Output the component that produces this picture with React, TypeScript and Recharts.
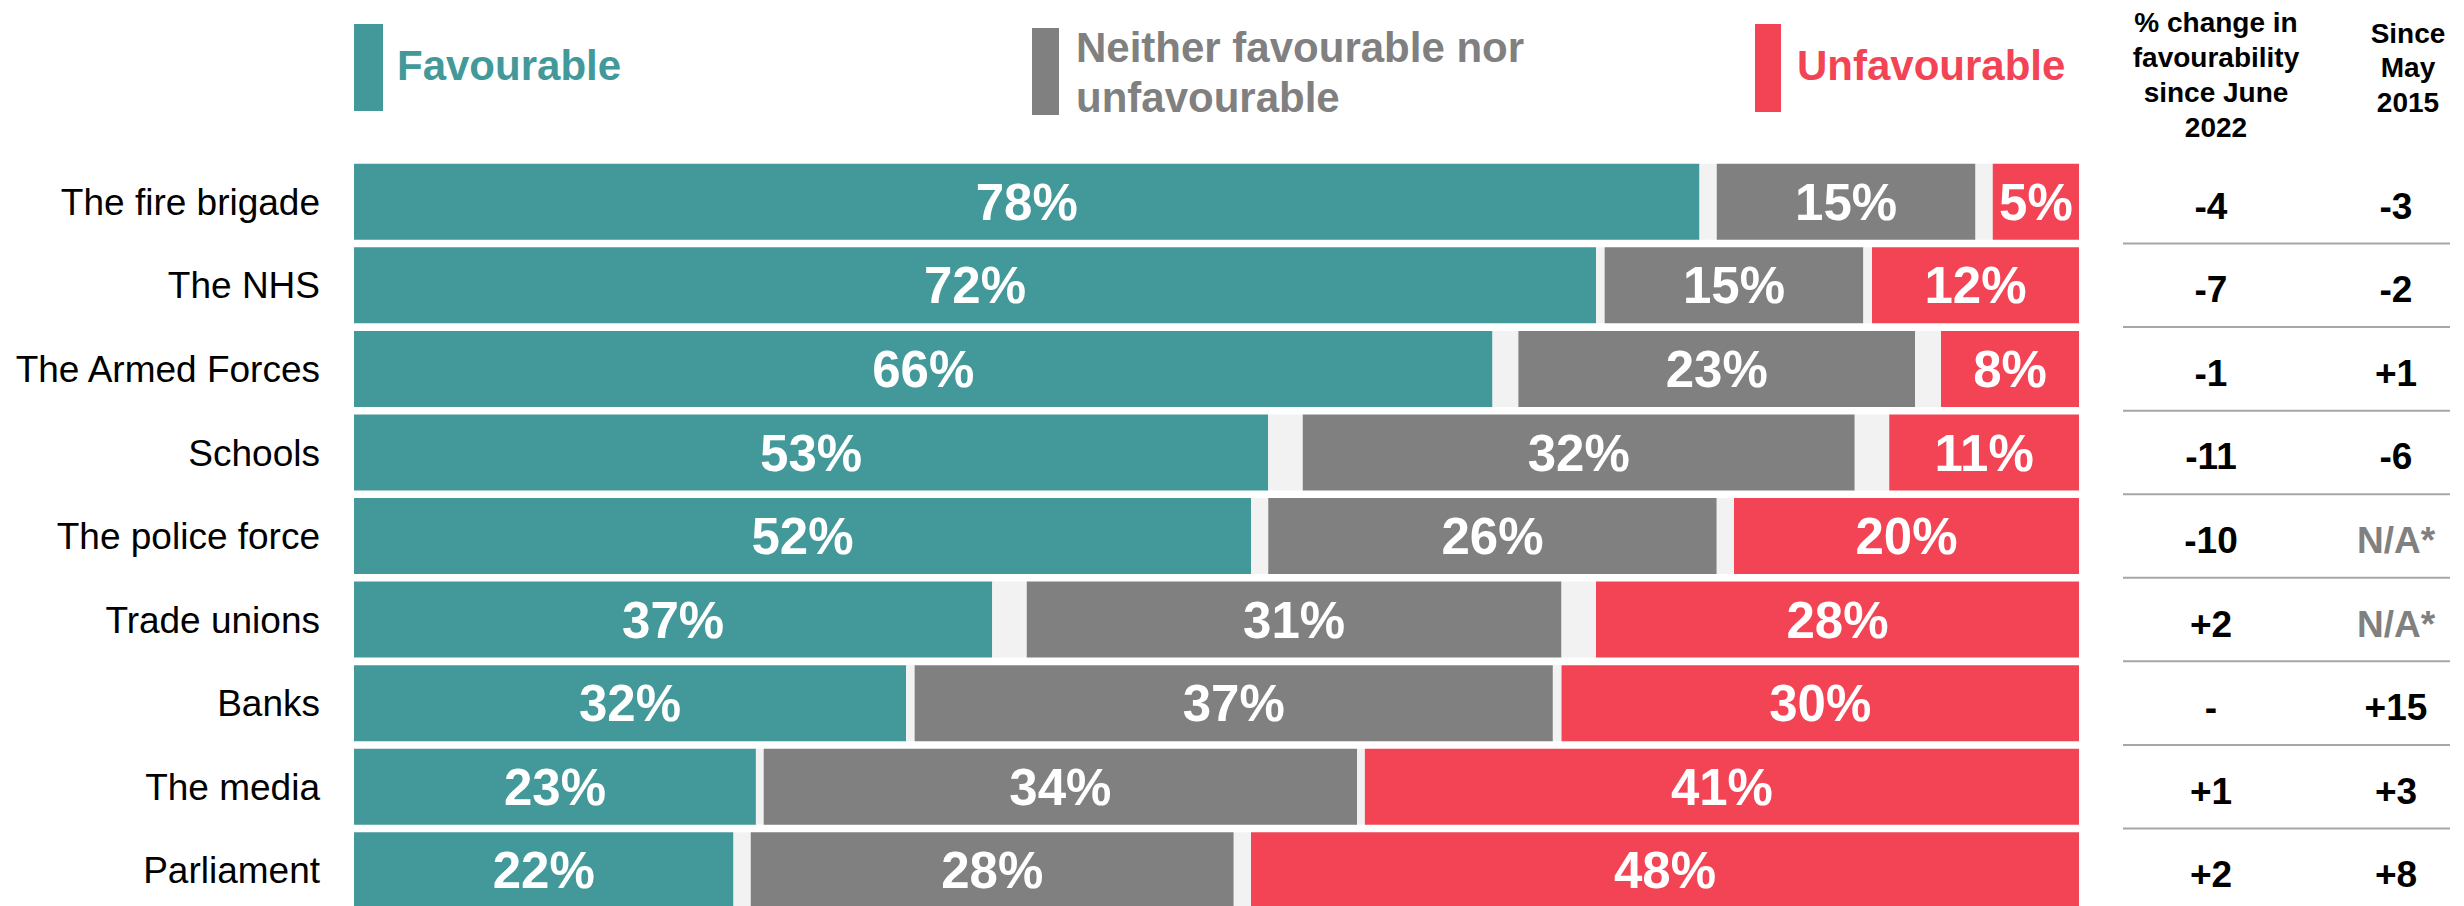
import React from 'react';
import { BarChart, Bar, XAxis, YAxis, LabelList } from 'recharts';

const institutions = [
  'The fire brigade',
  'The NHS',
  'The Armed Forces',
  'Schools',
  'The police force',
  'Trade unions',
  'Banks',
  'The media',
  'Parliament',
];
// bar lengths; labels show them rounded
const favourable = [78, 72, 66, 53, 52, 37, 32, 23.3, 22];
const neither = [15, 15, 23, 32, 26, 31, 37, 34.4, 28];
const unfavourable = [5, 12, 8, 11, 20, 28, 30, 41.4, 48];
const dontKnow = [2, 1, 3, 4, 2, 4, 1, 0.9, 2];
const changeSinceJune2022 = ['-4', '-7', '-1', '-11', '-10', '+2', '-', '+1', '+2'];
const changeSinceMay2015 = ['-3', '-2', '+1', '-6', 'N/A*', 'N/A*', '+15', '+3', '+8'];

const TEAL = '#43999A';
const GREY = '#808080';
const RED = '#F24455';
const GAP = '#F2F2F2';
const FONT = '"Liberation Sans", Arial, Helvetica, sans-serif';

const W = 2464;
const H = 920;
const TOP = 160;
const BOTTOM = 8;
const ROW = (H - TOP - BOTTOM) / institutions.length;

// don't know is split either side of the neutral block
const data = institutions.map((name, i) => ({
  name,
  fav: favourable[i],
  dkA: dontKnow[i] / 2,
  neither: neither[i],
  dkB: dontKnow[i] / 2,
  unfav: unfavourable[i],
}));

const pct = (v: any) => `${Math.round(Number(v))}%`;

const RightTick = (props: any) => {
  const { y, payload } = props;
  const i = props.index ?? institutions.indexOf(payload.value);
  const may = changeSinceMay2015[i];
  return (
    <g>
      <text x={2211} y={y + 17} textAnchor="middle" fontSize={37} fontWeight="bold" fill="#000">
        {changeSinceJune2022[i]}
      </text>
      <text x={2396} y={y + 17} textAnchor="middle" fontSize={37} fontWeight="bold" fill={may === 'N/A*' ? GREY : '#000'}>
        {may}
      </text>
      {i < institutions.length - 1 && (
        <line x1={2123} x2={2450} y1={y + ROW / 2} y2={y + ROW / 2} stroke="#A6A6A6" strokeWidth={2} />
      )}
    </g>
  );
};

const labelStyle = { fill: '#fff', fontSize: 51, fontWeight: 'bold' as const, fontFamily: FONT };

export default function App() {
  return (
    <div style={{ position: 'absolute', left: 0, top: 0, width: W, height: 906, overflow: 'hidden', fontFamily: FONT, background: '#fff' }}>
      <svg width={W} height={160} style={{ position: 'absolute', left: 0, top: 0 }}>
        <rect x={354} y={24} width={29} height={87} fill={TEAL} />
        <text x={397} y={80} fontSize={42} fontWeight="bold" fill={TEAL}>Favourable</text>
        <rect x={1032} y={28} width={27} height={87} fill={GREY} />
        <text x={1076} y={62} fontSize={42} fontWeight="bold" fill={GREY}>Neither favourable nor</text>
        <text x={1076} y={112} fontSize={42} fontWeight="bold" fill={GREY}>unfavourable</text>
        <rect x={1755} y={24} width={26} height={88} fill={RED} />
        <text x={1797} y={80} fontSize={42} fontWeight="bold" fill={RED}>Unfavourable</text>

        <g fontSize={28} fontWeight="bold" fill="#000" textAnchor="middle">
          <text x={2216} y={31.5}>% change in</text>
          <text x={2216} y={66.5}>favourability</text>
          <text x={2216} y={101.5}>since June</text>
          <text x={2216} y={136.5}>2022</text>
          <text x={2408} y={42.5}>Since</text>
          <text x={2408} y={77}>May</text>
          <text x={2408} y={111.5}>2015</text>
        </g>
      </svg>
      <div style={{ position: 'absolute', left: 0, top: 0 }}>
        <BarChart
          width={W}
          height={H}
          data={data}
          layout="vertical"
          margin={{ top: TOP, right: 0, bottom: BOTTOM, left: 0 }}
          barCategoryGap={3.8}
        >
          <XAxis type="number" domain={[0, 100]} hide />
          <YAxis
            type="category"
            dataKey="name"
            width={354}
            axisLine={false}
            tickLine={false}
            tickSize={0}
            tickMargin={34}
            interval={0}
            tick={{ fontSize: 37, fill: '#000', fontFamily: FONT }}
          />
          <YAxis
            yAxisId="right"
            orientation="right"
            type="category"
            dataKey="name"
            width={385}
            axisLine={false}
            tickLine={false}
            interval={0}
            tick={(p: any) => <RightTick {...p} />}
          />
          <Bar dataKey="fav" stackId="a" fill={TEAL} isAnimationActive={false}>
            <LabelList dataKey="fav" position="center" formatter={pct} style={labelStyle} />
          </Bar>
          <Bar dataKey="dkA" stackId="a" fill={GAP} isAnimationActive={false} />
          <Bar dataKey="neither" stackId="a" fill={GREY} isAnimationActive={false}>
            <LabelList dataKey="neither" position="center" formatter={pct} style={labelStyle} />
          </Bar>
          <Bar dataKey="dkB" stackId="a" fill={GAP} isAnimationActive={false} />
          <Bar dataKey="unfav" stackId="a" fill={RED} isAnimationActive={false}>
            <LabelList dataKey="unfav" position="center" formatter={pct} style={labelStyle} />
          </Bar>
        </BarChart>
      </div>
    </div>
  );
}
